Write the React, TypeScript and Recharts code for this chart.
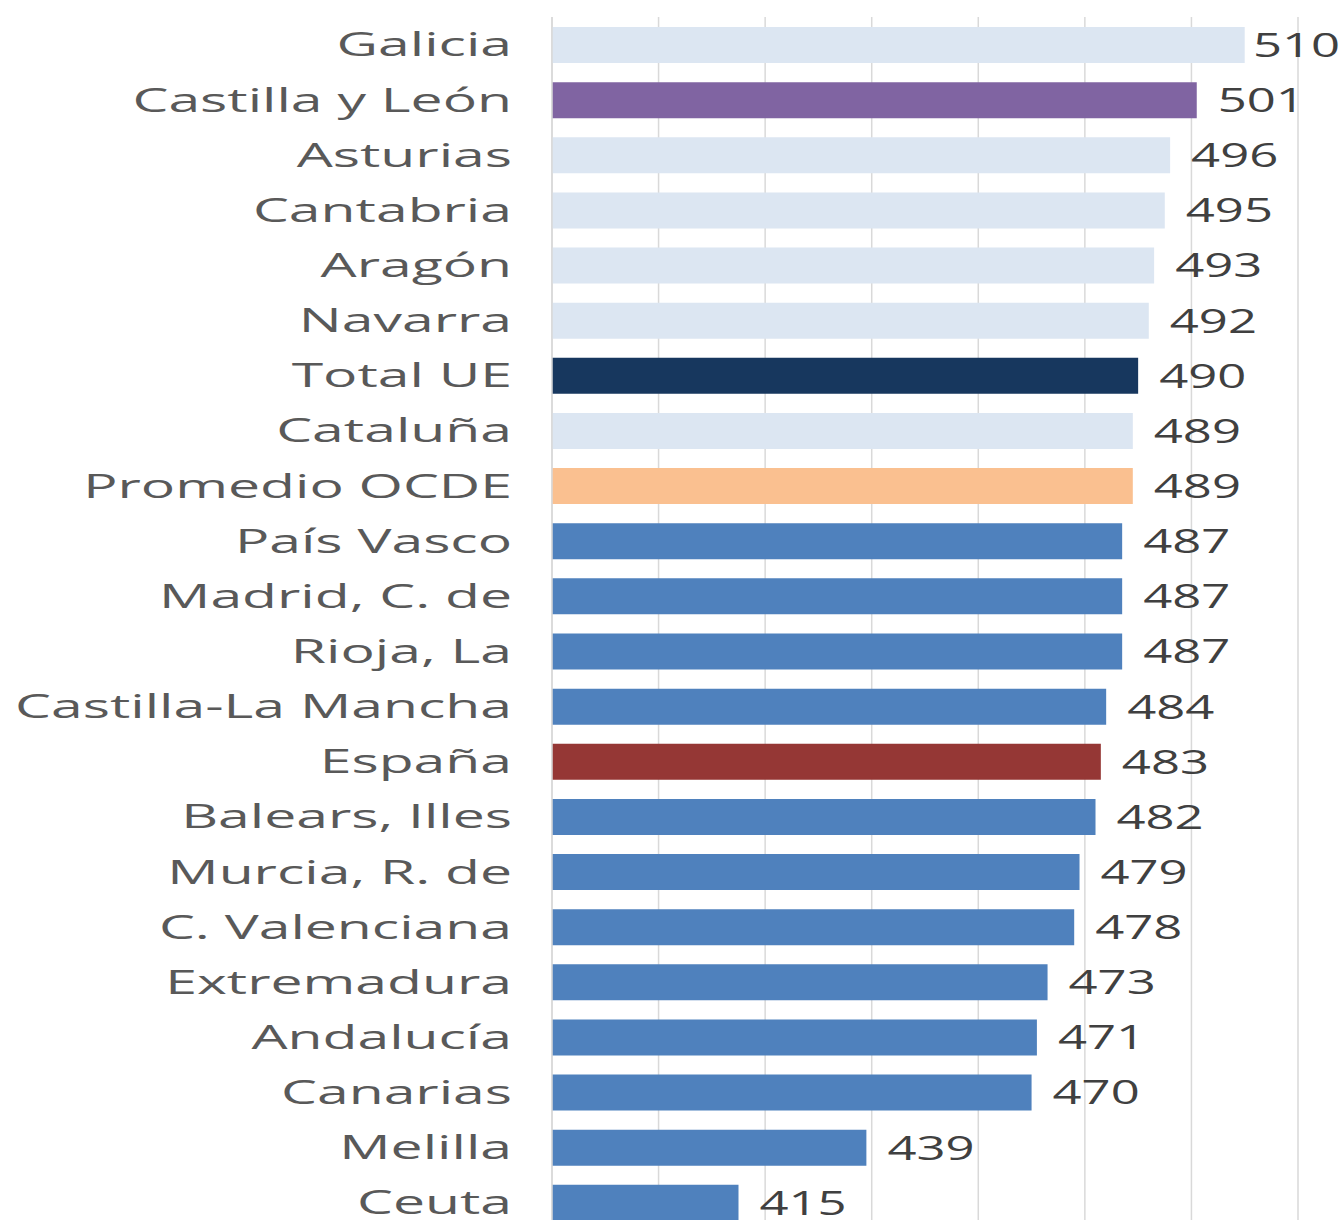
import React from 'react';
import { BarChart, Bar, XAxis, YAxis, CartesianGrid, Cell, LabelList } from 'recharts';

const regions = [
  'Galicia', 'Castilla y León', 'Asturias', 'Cantabria', 'Aragón', 'Navarra', 'Total UE',
  'Cataluña', 'Promedio OCDE', 'País Vasco', 'Madrid, C. de', 'Rioja, La', 'Castilla-La Mancha',
  'España', 'Balears, Illes', 'Murcia, R. de', 'C. Valenciana', 'Extremadura', 'Andalucía',
  'Canarias', 'Melilla', 'Ceuta',
];
const scores = [510, 501, 496, 495, 493, 492, 490, 489, 489, 487, 487, 487, 484, 483, 482, 479, 478, 473, 471, 470, 439, 415];
const barColors = [
  '#DCE6F2', '#8064A2', '#DCE6F2', '#DCE6F2', '#DCE6F2', '#DCE6F2', '#17375E',
  '#DCE6F2', '#FAC090', '#4F81BD', '#4F81BD', '#4F81BD', '#4F81BD',
  '#953735', '#4F81BD', '#4F81BD', '#4F81BD', '#4F81BD', '#4F81BD',
  '#4F81BD', '#4F81BD', '#4F81BD',
];
const xTicks = [380, 400, 420, 440, 460, 480, 500, 520];

const data = regions.map((name, i) => ({ name, score: scores[i], color: barColors[i] }));

const FONT = '"Open Sans", sans-serif';
const W = 1343;

function RegionTick({ x, y, payload }: any) {
  return (
    <text
      x={0}
      y={0}
      transform={`translate(${x - 32},${y}) scale(1.73,1)`}
      textAnchor="end"
      dy="0.36em"
      fontFamily={FONT}
      fontSize={33}
      fill="#595959"
    >
      {payload.value}
    </text>
  );
}

function ScoreLabel({ x, y, width, height, value }: any) {
  const textW = 82;
  const lx = Math.min(x + width + 21, W - 8 - textW);
  return (
    <text
      x={0}
      y={0}
      transform={`translate(${lx},${y + height / 2}) scale(1.54,1)`}
      textAnchor="start"
      dy="0.36em"
      fontFamily={FONT}
      fontSize={33}
      fill="#404040"
    >
      {value}
    </text>
  );
}

export default function App() {
  return (
    <div style={{ position: 'absolute', left: 0, top: 0, width: W, height: 1220, overflow: 'hidden', background: '#fff' }}>
      <BarChart
        width={W}
        height={1240}
        data={data}
        layout="vertical"
        margin={{ top: 17, right: 45, bottom: 10, left: 0 }}
      >
        <CartesianGrid horizontal={false} stroke="#D9D9D9" strokeWidth={1.5} />
        <XAxis type="number" domain={[380, 520]} ticks={xTicks} hide />
        <YAxis
          type="category"
          dataKey="name"
          width={552}
          axisLine={{ stroke: '#D9D9D9', strokeWidth: 1.5 }}
          tickLine={false}
          tick={<RegionTick />}
          interval={0}
        />
        <Bar dataKey="score" barSize={36} isAnimationActive={false}>
          {data.map((d) => (
            <Cell key={d.name} fill={d.color} />
          ))}
          <LabelList dataKey="score" content={<ScoreLabel />} />
        </Bar>
      </BarChart>
    </div>
  );
}
